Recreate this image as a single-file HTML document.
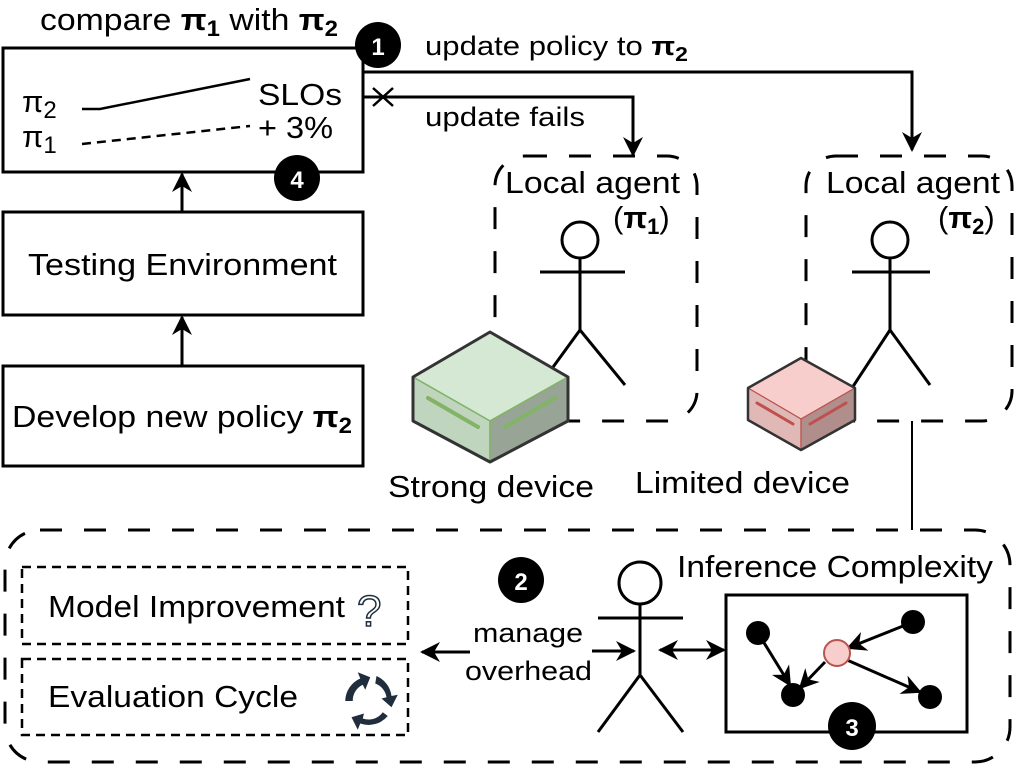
<!DOCTYPE html>
<html><head><meta charset="utf-8"><style>
html,body{margin:0;padding:0;background:#fff;}
svg{display:block;font-family:"Liberation Sans",Arial,sans-serif;}
</style></head><body>
<svg width="1016" height="773" viewBox="0 0 1016 773" xmlns="http://www.w3.org/2000/svg">
<defs>
<marker id="ah2" viewBox="0 0 20 20" refX="18" refY="10" markerWidth="20" markerHeight="20" orient="auto-start-reverse" markerUnits="userSpaceOnUse">
<path d="M0,0 L20,10 L0,20 L6,10 Z" fill="#000"/></marker>
</defs>
<g fill="none" stroke="#000" stroke-width="3">
<rect x="3" y="48" width="360" height="124"/>
<rect x="3" y="212" width="360" height="103"/>
<rect x="3" y="366" width="360" height="100"/>
<line x1="182" y1="212" x2="182" y2="174" marker-end="url(#ah2)"/>
<line x1="182" y1="366" x2="182" y2="317" marker-end="url(#ah2)"/>
<polyline points="82,109 100,109 250,79" stroke-width="2.5"/>
<line x1="82" y1="144" x2="250" y2="126" stroke-width="2.5" stroke-dasharray="9,6"/>
<polyline points="363,72 912,72 912,150" marker-end="url(#ah2)"/>
<polyline points="363,97 633,97 633,155" marker-end="url(#ah2)"/>
<line x1="373" y1="88" x2="393" y2="106" stroke-width="2.5"/>
<line x1="393" y1="88" x2="373" y2="106" stroke-width="2.5"/>
<rect x="495" y="156" width="202" height="265" rx="30" stroke-dasharray="22,22"/>
<rect x="806" y="156" width="206" height="265" rx="30" stroke-dasharray="22,22"/>
<circle cx="580" cy="240" r="18" fill="#fff"/>
<line x1="580" y1="258" x2="580" y2="330"/>
<line x1="540" y1="272" x2="625" y2="272"/>
<line x1="580" y1="330" x2="540" y2="385"/>
<line x1="580" y1="330" x2="625" y2="385"/>
<circle cx="890" cy="240" r="18" fill="#fff"/>
<line x1="890" y1="258" x2="890" y2="330"/>
<line x1="852" y1="272" x2="930" y2="272"/>
<line x1="890" y1="330" x2="852" y2="388"/>
<line x1="890" y1="330" x2="930" y2="385"/>
<line x1="912" y1="421" x2="912" y2="530" stroke-width="2"/>
</g>
<g stroke-linejoin="round">
<path d="M413,377 L490,332 L568,377 L490,421 Z" fill="#d5e8d4" stroke="#82b366" stroke-width="1.5"/>
<path d="M413,377 L490,421 L490,462 L413,421 Z" fill="#c0d5be" stroke="#82b366" stroke-width="1.5"/>
<path d="M490,421 L568,377 L568,421 L490,462 Z" fill="#98a596" stroke="#82b366" stroke-width="1.5"/>
<path d="M413,377 L490,332 L568,377 L568,421 L490,462 L413,421 Z" fill="none" stroke="#333" stroke-width="3"/>
<line x1="428" y1="398" x2="478" y2="427" stroke="#82b366" stroke-width="4" stroke-linecap="round"/>
<line x1="505" y1="427" x2="555" y2="398" stroke="#82b366" stroke-width="4" stroke-linecap="round"/>
<path d="M748,388 L801,358 L855,388 L801,419 Z" fill="#f8cecc" stroke="#b85450" stroke-width="1.2"/>
<path d="M748,388 L801,419 L801,450 L748,420 Z" fill="#e0b9b7" stroke="#b85450" stroke-width="1.2"/>
<path d="M801,419 L855,388 L855,420 L801,450 Z" fill="#b08e8c" stroke="#b85450" stroke-width="1.2"/>
<path d="M748,388 L801,358 L855,388 L855,420 L801,450 L748,420 Z" fill="none" stroke="#333" stroke-width="2.5"/>
<line x1="757" y1="403" x2="793" y2="424" stroke="#c0504d" stroke-width="3" stroke-linecap="round"/>
<line x1="810" y1="424" x2="846" y2="403" stroke="#c0504d" stroke-width="3" stroke-linecap="round"/>
</g>
<g fill="none" stroke="#000" stroke-width="3">
<rect x="5" y="530" width="1005" height="232" rx="35" stroke-dasharray="22,22"/>
<rect x="22" y="567" width="386" height="77" stroke-width="2.5" stroke-dasharray="9,6"/>
<rect x="22" y="659" width="386" height="76" stroke-width="2.5" stroke-dasharray="9,6"/>
<circle cx="640" cy="583" r="21"/>
<line x1="640" y1="604" x2="640" y2="675"/>
<line x1="598" y1="618" x2="683" y2="618"/>
<line x1="640" y1="675" x2="598" y2="732"/>
<line x1="640" y1="675" x2="683" y2="732"/>
<line x1="470" y1="652" x2="422" y2="652" marker-end="url(#ah2)"/>
<line x1="592" y1="651" x2="634" y2="651" marker-end="url(#ah2)"/>
<line x1="660" y1="650" x2="724" y2="650" marker-start="url(#ah2)" marker-end="url(#ah2)"/>
<rect x="726" y="595" width="241" height="137"/>
<line x1="758" y1="633" x2="790" y2="685" marker-end="url(#ah2)"/>
<line x1="825" y1="662" x2="800" y2="688" marker-end="url(#ah2)"/>
<line x1="913" y1="622" x2="848" y2="648" marker-end="url(#ah2)"/>
<line x1="847" y1="660" x2="920" y2="692" marker-end="url(#ah2)"/>
</g>
<circle cx="758" cy="633" r="12"/>
<circle cx="793" cy="695" r="12"/>
<circle cx="913" cy="622" r="12"/>
<circle cx="930" cy="697" r="12"/>
<circle cx="837" cy="653" r="13" fill="#f8cecc" stroke="#b85450" stroke-width="2"/>
<g fill="#1f2d3d" transform="translate(369,701) scale(1.25) translate(-371,-700)">
<path d="M352,700 a20,20 0 0 1 12,-18 l-2,-5 l10,4 l-4,10 l-2,-4 a14,14 0 0 0 -8,13 z"/>
<path d="M377,680 a20,20 0 0 1 12,16 l5,-1 l-5,10 l-8,-7 l4,-1 a14,14 0 0 0 -9,-11 z"/>
<path d="M386,712 a20,20 0 0 1 -22,6 l-2,5 l-5,-10 l10,-3 l-1,4 a14,14 0 0 0 16,-5 z"/>
</g>
<g>
<circle cx="378" cy="45" r="23" fill="#000"/><text x="378" y="55" font-size="24" font-weight="bold" fill="#fff" text-anchor="middle">1</text>
<circle cx="297" cy="178" r="23" fill="#000"/><text x="297" y="188" font-size="24" font-weight="bold" fill="#fff" text-anchor="middle">4</text>
<circle cx="521" cy="580" r="23" fill="#000"/><text x="521" y="590" font-size="24" font-weight="bold" fill="#fff" text-anchor="middle">2</text>
<circle cx="852" cy="726" r="24" fill="#000"/><text x="852" y="736" font-size="24" font-weight="bold" fill="#fff" text-anchor="middle">3</text>
</g>
<g fill="#000" font-size="31" lengthAdjust="spacingAndGlyphs">
<text x="40" y="30" textLength="298" lengthAdjust="spacingAndGlyphs">compare <tspan font-weight="bold">π<tspan font-size="22" dy="6">1</tspan></tspan><tspan dy="-6"> with </tspan><tspan font-weight="bold">π<tspan font-size="22" dy="6">2</tspan></tspan></text>
<text x="22" y="112">π<tspan font-size="24" dy="6">2</tspan></text>
<text x="22" y="147">π<tspan font-size="24" dy="6">1</tspan></text>
<text x="258" y="105" textLength="84" lengthAdjust="spacingAndGlyphs">SLOs</text>
<text x="258" y="138" textLength="75" lengthAdjust="spacingAndGlyphs">+ 3%</text>
<text x="425" y="55" font-size="27" textLength="263" lengthAdjust="spacingAndGlyphs">update policy to <tspan font-weight="bold">π<tspan font-size="20" dy="6">2</tspan></tspan></text>
<text x="425" y="126" font-size="27" textLength="160" lengthAdjust="spacingAndGlyphs">update fails</text>
<text x="28" y="275" textLength="309" lengthAdjust="spacingAndGlyphs">Testing Environment</text>
<text x="12" y="427" textLength="340" lengthAdjust="spacingAndGlyphs">Develop new policy <tspan font-weight="bold">π<tspan font-size="22" dy="6">2</tspan></tspan></text>
<text x="505" y="193" textLength="175" lengthAdjust="spacingAndGlyphs">Local agent</text>
<text x="613" y="228">(<tspan font-weight="bold">π<tspan font-size="22" dy="6">1</tspan></tspan><tspan dy="-6">)</tspan></text>
<text x="826" y="193" textLength="174" lengthAdjust="spacingAndGlyphs">Local agent</text>
<text x="938" y="228">(<tspan font-weight="bold">π<tspan font-size="22" dy="6">2</tspan></tspan><tspan dy="-6">)</tspan></text>
<text x="388" y="497" textLength="206" lengthAdjust="spacingAndGlyphs">Strong device</text>
<text x="635" y="493" textLength="215" lengthAdjust="spacingAndGlyphs">Limited device</text>
<text x="677" y="577" textLength="316" lengthAdjust="spacingAndGlyphs">Inference Complexity</text>
<text x="48" y="617" textLength="297" lengthAdjust="spacingAndGlyphs">Model Improvement</text>
<text x="48" y="707" textLength="250" lengthAdjust="spacingAndGlyphs">Evaluation Cycle</text>
<text x="473" y="642" font-size="27" textLength="110" lengthAdjust="spacingAndGlyphs">manage</text>
<text x="465" y="680" font-size="27" textLength="127" lengthAdjust="spacingAndGlyphs">overhead</text>
<text x="357" y="626" font-size="44" fill="none" stroke="#1f2d3d" stroke-width="1.5">?</text>
</g>
</svg>
</body></html>
